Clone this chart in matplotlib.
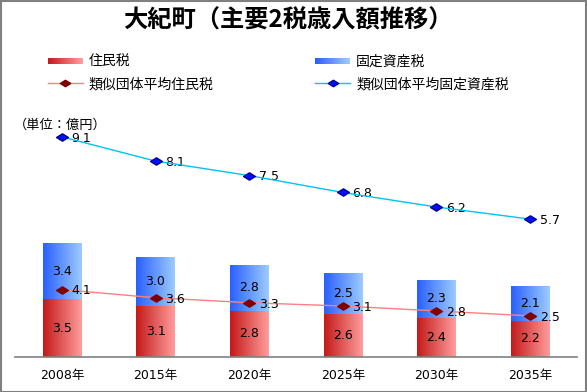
import numpy as np
import matplotlib
matplotlib.use('Agg')
import matplotlib.pyplot as plt
from matplotlib.patches import Rectangle
from matplotlib.lines import Line2D
from matplotlib.path import Path
from matplotlib.legend_handler import HandlerBase
from matplotlib.colors import to_rgb

plt.rcParams['font.family'] = ['Noto Sans CJK JP', 'DejaVu Sans']
NUMFONT = ['DejaVu Sans', 'Noto Sans CJK JP']

# data (億円)
years = ['2008年', '2015年', '2020年', '2025年', '2030年', '2035年']
jumin = [3.5, 3.1, 2.8, 2.6, 2.4, 2.2]
kotei = [3.4, 3.0, 2.8, 2.5, 2.3, 2.1]
ruiji_jumin = [4.1, 3.6, 3.3, 3.1, 2.8, 2.5]
ruiji_kotei = [9.1, 8.1, 7.5, 6.8, 6.2, 5.7]

red_grad = ('#c41a1a', '#ff9c9c')
blue_grad = ('#2a60ff', '#9ccbff')

# flat diamond marker (wider than tall)
wide_d = Path([(-1, 0), (0, 0.62), (1, 0), (0, -0.62), (-1, 0)],
              [Path.MOVETO, Path.LINETO, Path.LINETO, Path.LINETO, Path.CLOSEPOLY])


def grad_img(c0, c1, n=64):
    a = np.array(to_rgb(c0))
    b = np.array(to_rgb(c1))
    t = np.linspace(0, 1, n)[:, None]
    return (a + (b - a) * t)[None, :, :]


class GradHandler(HandlerBase):
    def __init__(self, c0, c1):
        super().__init__()
        self.c0, self.c1 = c0, c1

    def create_artists(self, legend, orig_handle, xdescent, ydescent,
                       width, height, fontsize, trans):
        img = grad_img(self.c0, self.c1, 24)[0]
        n = len(img)
        h = height * 0.55
        y0 = -ydescent + (height - h) / 2
        arts = []
        for i in range(n):
            r = Rectangle((-xdescent + width * i / n, y0), width / n * 1.1, h,
                          facecolor=img[i], edgecolor='none', transform=trans)
            arts.append(r)
        return arts


W, H = 587, 392
fig = plt.figure(figsize=(W / 100, H / 100), dpi=100, facecolor='w')
ax = fig.add_axes([15 / W, 35 / H, 562 / W, 232 / H])
ax2 = ax.twinx()

x = np.arange(len(years))
bw = 0.41
b1 = ax.bar(x, jumin, bw, color='none', edgecolor='none')
b2 = ax.bar(x, kotei, bw, bottom=jumin, color='none', edgecolor='none')

for bars, g in ((b1, red_grad), (b2, blue_grad)):
    for p in bars:
        x0, y0 = p.get_x(), p.get_y()
        im = ax.imshow(grad_img(*g), extent=[x0, x0 + p.get_width(), y0, y0 + p.get_height()],
                       aspect='auto', zorder=1, interpolation='bilinear')
        im.set_clip_path(p)

for i in range(len(years)):
    ax.text(x[i], jumin[i] / 2, f'{jumin[i]:.1f}', ha='center', va='center',
            fontsize=9, family=NUMFONT, zorder=3)
    ax.text(x[i], jumin[i] + kotei[i] / 2, f'{kotei[i]:.1f}', ha='center', va='center',
            fontsize=9, family=NUMFONT, zorder=3)

ax.plot(x, ruiji_jumin, color='#ff7f7f', lw=1, marker=wide_d, ms=8.5,
        mfc='#800000', mec='#800000', zorder=4)
for i, v in enumerate(ruiji_jumin):
    ax.annotate(f'{v:.1f}', (x[i], v), xytext=(7, -1), textcoords='offset points',
                ha='left', va='center', fontsize=9, family=NUMFONT, zorder=5)

ax2.plot(x, ruiji_kotei, color='#00c4f4', lw=1, marker=wide_d, ms=8.5,
         mfc='#0010ff', mec='#000090', zorder=4)
for i, v in enumerate(ruiji_kotei):
    ax2.annotate(f'{v:.1f}', (x[i], v), xytext=(7, -1), textcoords='offset points',
                 ha='left', va='center', fontsize=9, family=NUMFONT)

ax.set_xlim(-0.5, len(years) - 0.5)
ax.set_ylim(0, 14.1)
ax2.set_ylim(0, 9.59)
ax.set_xticks(x)
ax.set_xticklabels(years, fontsize=9, family=NUMFONT)
ax.tick_params(axis='x', length=0, pad=9)
ax.set_yticks([])
ax2.set_yticks([])
for a in (ax, ax2):
    for s in ('top', 'left', 'right'):
        a.spines[s].set_visible(False)
    a.set_facecolor('none')
ax.spines['bottom'].set_color('#808080')
ax.spines['bottom'].set_linewidth(1.2)
ax2.spines['bottom'].set_visible(False)

fig.text(14 / W, 1 - 125 / H, '（単位：億円）', fontsize=9.5, ha='left', va='center')
fig.text(288 / W, 1 - 21 / H, '大紀町（主要2税歳入額推移）', fontsize=17.5,
         fontweight='bold', ha='center', va='center')

h1 = Rectangle((0, 0), 1, 1)
h2 = Rectangle((0, 0), 1, 1)
h3 = Line2D([], [], color='#ff7f7f', lw=1, marker=wide_d, ms=7.5, mfc='#800000', mec='#800000')
h4 = Line2D([], [], color='#00c4f4', lw=1, marker=wide_d, ms=7.5, mfc='#0010ff', mec='#000090')
leg = fig.legend([h1, h3, h2, h4], ['住民税', '類似団体平均住民税', '固定資産税', '類似団体平均固定資産税'],
                 handler_map={h1: GradHandler(*red_grad), h2: GradHandler(*blue_grad)},
                 loc='upper left', bbox_to_anchor=(48 / W, 1 - 55 / H), ncol=2, frameon=False,
                 fontsize=10, handlelength=2.5, handletextpad=0.45, columnspacing=7.3,
                 labelspacing=0.6, borderpad=0, borderaxespad=0)

fig.patches.append(Rectangle((0.5 / W, 0.5 / H), 585 / W, 390.5 / H, transform=fig.transFigure,
                             fill=False, edgecolor='#808080', lw=1.5))

plt.savefig('out.png', dpi=100)
plt.close()
